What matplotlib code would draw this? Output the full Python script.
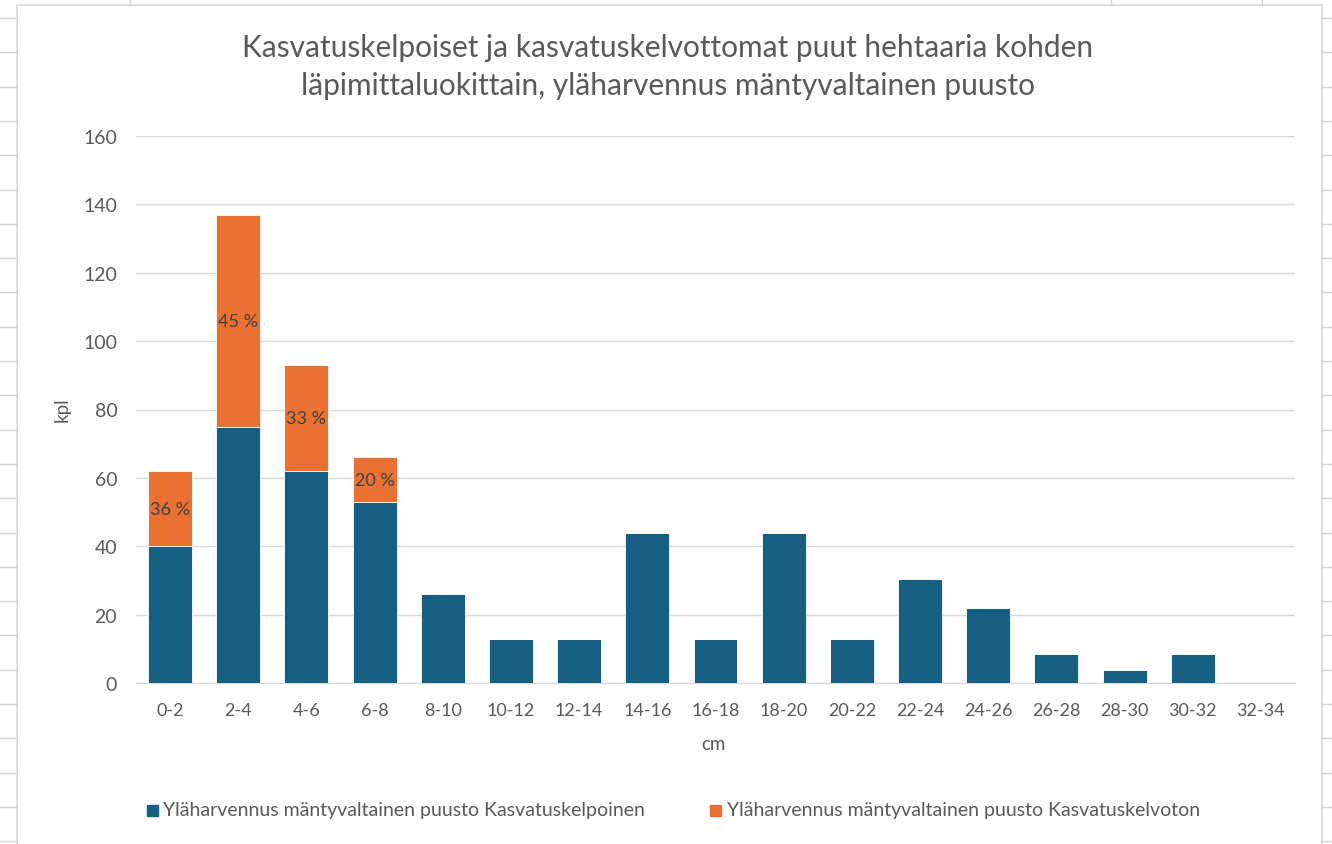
import matplotlib
matplotlib.use("Agg")
import matplotlib.pyplot as plt
from matplotlib.lines import Line2D
from matplotlib.patches import Rectangle
import numpy as np

plt.rcParams['font.family'] = ['Lato', 'DejaVu Sans']

categories = ["0-2", "2-4", "4-6", "6-8", "8-10", "10-12", "12-14", "14-16", "16-18",
              "18-20", "20-22", "22-24", "24-26", "26-28", "28-30", "30-32", "32-34"]
kelpoinen = [40, 75, 62, 53, 26, 13, 13, 44, 13, 44, 13, 30.5, 22, 8.4, 3.8, 8.4, 0]
kelvoton = [22, 62, 31, 13, 0, 0, 0, 0, 0, 0, 0, 0, 0, 0, 0, 0, 0]
pct_labels = ["36 %", "45 %", "33 %", "20 %"]

series_names = ["Yläharvennus mäntyvaltainen puusto Kasvatuskelpoinen",
                "Yläharvennus mäntyvaltainen puusto Kasvatuskelvoton"]
title = "Kasvatuskelpoiset ja kasvatuskelvottomat puut hehtaaria kohden\nläpimittaluokittain, yläharvennus mäntyvaltainen puusto"

W, H = 1332, 845
fig = plt.figure(figsize=(W / 100, H / 100), dpi=100)

def fx(px):
    return px / W

def fy(py):
    return 1 - py / H

# spreadsheet background grid decorations
grid_c = "#D4D4D4"
for i in range(25):
    yy = 19 + i * 34.3
    if yy > H:
        break
    fig.add_artist(Line2D([fx(0), fx(17)], [fy(yy), fy(yy)], color=grid_c, lw=1, transform=fig.transFigure))
    fig.add_artist(Line2D([fx(1322), fx(1332)], [fy(yy), fy(yy)], color=grid_c, lw=1, transform=fig.transFigure))
for xx in [130, 1111, 1262]:
    fig.add_artist(Line2D([fx(xx), fx(xx)], [fy(0), fy(6)], color=grid_c, lw=1, transform=fig.transFigure))
# chart frame
fig.add_artist(Rectangle((fx(17), fy(850)), fx(1322) - fx(17), fy(6) - fy(850),
                         fill=False, edgecolor="#D9D9D9", lw=1.2, transform=fig.transFigure))

ax = fig.add_axes([fx(136), fy(684), fx(1295) - fx(136), fy(137) - fy(684)])

blue = "#156082"
orange = "#E97132"
x = np.arange(len(categories))
bw = 0.645
ax.bar(x, kelpoinen, width=bw, color=blue, edgecolor="white", linewidth=0.6, label=series_names[0], zorder=3)
ax.bar(x, kelvoton, width=bw, bottom=kelpoinen, color=orange, edgecolor="white", linewidth=0.6,
       label=series_names[1], zorder=3)

for i, lab in enumerate(pct_labels):
    ax.text(x[i], kelpoinen[i] + kelvoton[i] / 2, lab, ha="center", va="center",
            fontsize=13, color="#404040", zorder=4)

ax.set_xlim(-0.5, len(categories) - 0.5)
ax.set_ylim(0, 160)
ax.set_yticks(np.arange(0, 161, 20))
ax.set_xticks(x)
ax.set_xticklabels(categories)
ax.grid(axis="y", color="#D9D9D9", lw=1, zorder=0)
ax.set_axisbelow(True)
for s in ["top", "right", "left"]:
    ax.spines[s].set_visible(False)
ax.spines["bottom"].set_color("#D9D9D9")
ax.tick_params(axis="both", length=0, labelcolor="#595959")
ax.tick_params(axis="x", pad=14, labelsize=13)
ax.tick_params(axis="y", pad=13.5, labelsize=14)

fig.text(fx(62), fy(410), "kpl", rotation=90, ha="center", va="center", fontsize=13.5, color="#595959")
fig.text(fx(713), fy(745), "cm", ha="center", va="center", fontsize=13.5, color="#595959")
fig.text(fx(668), fy(67), title, ha="center", va="center", fontsize=21.5, color="#595959",
         linespacing=1.47)

# legend
fig.add_artist(Rectangle((fx(147), fy(817)), 11 / W, 11 / H, color=blue, transform=fig.transFigure))
fig.text(fx(163), fy(811), series_names[0], ha="left", va="center", fontsize=14, color="#595959")
fig.add_artist(Rectangle((fx(710), fy(817)), 11 / W, 11 / H, color=orange, transform=fig.transFigure))
fig.text(fx(727), fy(811), series_names[1], ha="left", va="center", fontsize=14, color="#595959")

fig.savefig("out.png", dpi=100)
